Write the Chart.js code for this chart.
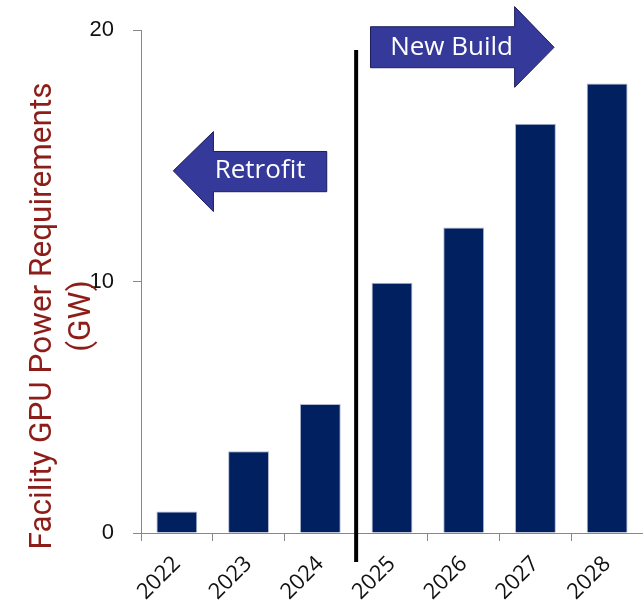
<!DOCTYPE html>
<html>
<head>
<meta charset="utf-8">
<script src="https://cdn.jsdelivr.net/npm/chart.js@4"></script>
<style>
  html, body { margin: 0; padding: 0; background: #fff; overflow: hidden; }
  #wrap { width: 643px; height: 609px; }
</style>
</head>
<body>
<div id="wrap"><canvas id="gpuChart" width="643" height="609"></canvas></div>
<script>
// data
const years = ['2022', '2023', '2024', '2025', '2026', '2027', '2028'];
const powerGW = [0.85, 3.25, 5.13, 9.95, 12.15, 16.27, 17.87];
const yTicks = [0, 10, 20];
const yTitle = ['Facility GPU Power Requirements', '(GW)'];
const retrofitLabel = 'Retrofit';
const newBuildLabel = 'New Build';

const barColor = '#002060';
const arrowFill = '#35399a';
const titleColor = '#8c1d18';

// arrow annotations, drawn in axis units (category index / GW)
function drawArrow(ctx, pts, text, tx, ty) {
    ctx.save();
    ctx.beginPath();
    ctx.moveTo(pts[0][0], pts[0][1]);
    for (let i = 1; i < pts.length; i++) ctx.lineTo(pts[i][0], pts[i][1]);
    ctx.closePath();
    ctx.fillStyle = arrowFill;
    ctx.fill();
    ctx.lineWidth = 1;
    ctx.strokeStyle = '#1c1f5a';
    ctx.stroke();
    ctx.fillStyle = '#ffffff';
    ctx.font = '26px "Open Sans"';
    ctx.textAlign = 'center';
    ctx.textBaseline = 'middle';
    ctx.fillText(text, tx, ty);
    ctx.restore();
}

const extras = {
    id: 'extras',
    afterDatasetsDraw(chart) {
        const ctx = chart.ctx;
        const x = chart.scales.x;
        const y = chart.scales.y;
        const px = v => x.getPixelForValue(v);
        const py = v => y.getPixelForValue(v);

        // divider between retrofit and new build years
        ctx.save();
        ctx.strokeStyle = '#000';
        ctx.lineWidth = 4;
        ctx.beginPath();
        ctx.moveTo(px(2.5), py(19.2));
        ctx.lineTo(px(2.5), chart.chartArea.bottom + 29);
        ctx.stroke();
        ctx.restore();

        // New Build (right arrow)
        drawArrow(ctx, [
            [px(2.70), py(20.13)], [px(4.71), py(20.13)], [px(4.71), py(20.93)],
            [px(5.26), py(19.31)],
            [px(4.71), py(17.72)], [px(4.71), py(18.5)], [px(2.70), py(18.5)]
        ], newBuildLabel, (px(2.70) + px(4.71)) / 2 + 9, py(19.31));

        // Retrofit (left arrow)
        drawArrow(ctx, [
            [px(2.09), py(15.17)], [px(0.51), py(15.17)], [px(0.51), py(15.96)],
            [px(-0.05), py(14.4)],
            [px(0.51), py(12.78)], [px(0.51), py(13.57)], [px(2.09), py(13.57)]
        ], retrofitLabel, (px(0.51) + px(2.09)) / 2 - 10, py(14.4));

        // y axis title, two lines
        ctx.save();
        ctx.translate(0, 316);
        ctx.rotate(-Math.PI / 2);
        ctx.fillStyle = titleColor;
        ctx.font = '31.5px Roboto';
        ctx.textAlign = 'center';
        ctx.textBaseline = 'alphabetic';
        ctx.fillText(yTitle[0], 0, 51);
        ctx.fillText(yTitle[1], 0, 90);
        ctx.restore();
    }
};

const ctx = document.getElementById('gpuChart').getContext('2d');
const chart = new Chart(ctx, {
    type: 'bar',
    data: {
        labels: years,
        datasets: [{
            data: powerGW,
            backgroundColor: barColor,
            borderColor: '#b3b7cf',
            borderWidth: 1,
            barPercentage: 0.57,
            categoryPercentage: 1
        }]
    },
    options: {
        responsive: false,
        animation: false,
        layout: { padding: { top: 30, right: 0, left: 0, bottom: 0 } },
        plugins: {
            legend: { display: false },
            tooltip: { enabled: false }
        },
        scales: {
            x: {
                offset: true,
                grid: {
                    offset: true,
                    drawOnChartArea: false,
                    tickLength: 8,
                    color: '#888'
                },
                border: { color: '#888', width: 1 },
                ticks: {
                    color: '#111',
                    font: { family: '"Open Sans"', size: 22 },
                    maxRotation: 45,
                    minRotation: 45,
                    padding: 10
                },
                afterFit(scale) {
                    scale.height = 76;
                    scale.paddingLeft = 0;
                    scale.paddingRight = 0;
                }
            },
            y: {
                min: 0,
                max: 20,
                afterBuildTicks(scale) {
                    scale.ticks = yTicks.map(v => ({ value: v }));
                },
                grid: {
                    drawOnChartArea: false,
                    tickLength: 8,
                    color: '#888'
                },
                border: { color: '#888', width: 1 },
                ticks: {
                    color: '#111',
                    font: { family: 'Arial, "Liberation Sans"', size: 22 },
                    padding: 19
                },
                afterFit(scale) {
                    scale.width = 141;
                    scale.paddingTop = 0;
                    scale.paddingBottom = 0;
                }
            }
        }
    },
    plugins: [extras]
});
</script>
</body>
</html>
